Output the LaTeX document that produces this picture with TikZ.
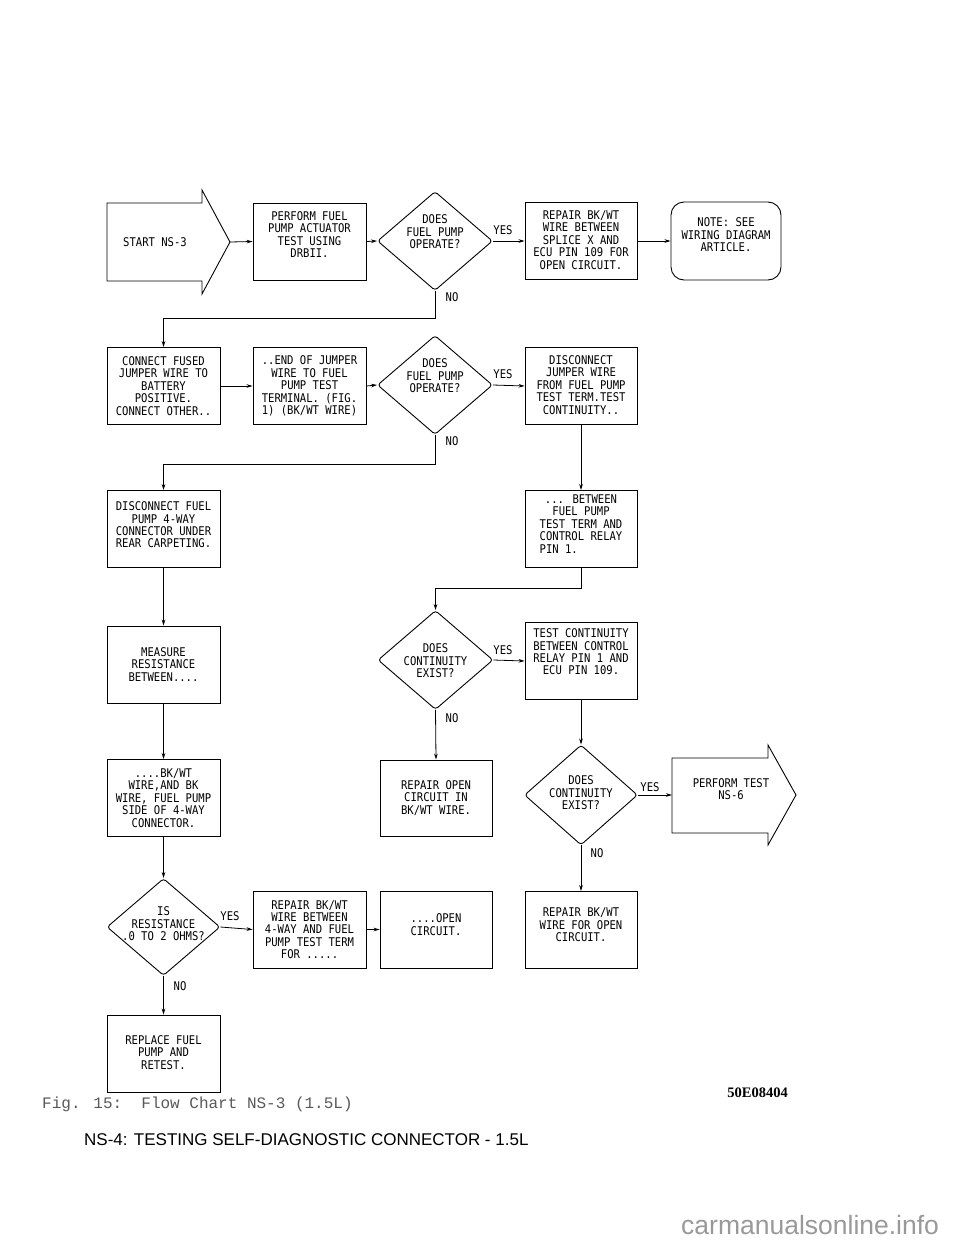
\documentclass[tikz,border=0pt]{standalone}
\usepackage{fontspec}
\usetikzlibrary{shapes.geometric,arrows.meta}
\newfontfamily\chartfam[FakeStretch=0.88]{DejaVu Sans Mono}
\newfontfamily\sansfam{Liberation Sans}
\newfontfamily\courfam{Liberation Mono}
\newfontfamily\tnrfam{Liberation Serif}
\tikzset{
  chart/.style={font={\chartfam\fontsize{12pt}{12.4pt}\selectfont}},
  txt/.style={chart, align=center, inner sep=0pt},
  box/.style={draw, line width=0.9pt, minimum width=113pt, minimum height=77pt, inner sep=0pt},
  dia/.style={draw, diamond, line width=0.9pt, rounded corners=3pt, minimum width=115pt, minimum height=99pt, inner sep=0pt},
  arr/.style={-{Stealth[length=6pt,width=3.6pt]}, line width=0.8pt},
  lbl/.style={chart, inner sep=0pt},
  outline/.style={line width=0.9pt, line join=miter}
}
\begin{document}
\begin{tikzpicture}[x=1pt,y=-1pt]
\useasboundingbox (0,0) rectangle (960,1242);
\fill[white] (0,0) rectangle (960,1242);

% ---- Row 1
\draw[outline] (107,203) -- (202,203) -- (202,190) -- (230,242) -- (202,294) -- (202,281) -- (107,281) -- cycle;
\node[txt] (start) at (155,242) {START NS-3};
\coordinate (starttip) at (230,242);
\node[box] (A) at (309.5,241.5) {};
\node[txt] (At) at ([yshift=7pt]A.center) {PERFORM FUEL\\PUMP ACTUATOR\\TEST USING\\DRBII.};
\node[dia] (D1) at (435,241) {};
\node[txt] (D1t) at ([yshift=9pt]D1.center) {DOES\\FUEL PUMP\\OPERATE?};
\node[box, minimum width=112pt] (B) at (581,241) {};
\node[txt] (Bt) at ([yshift=1pt]B.center) {REPAIR BK/WT\\WIRE BETWEEN\\SPLICE X AND\\ECU PIN 109 FOR\\OPEN CIRCUIT.};
\node[box, rounded corners=13pt, minimum width=110pt, minimum height=78pt] (note) at (726,241) {};
\node[txt] (notet) at ([yshift=6pt]note.center) {NOTE: SEE\\WIRING DIAGRAM\\ARTICLE.};

% ---- Row 2
\node[box] (C) at (163.5,386) {};
\node[txt] (Ct) at (C.center) {CONNECT FUSED\\JUMPER WIRE TO\\BATTERY\\POSITIVE.\\CONNECT OTHER..};
\node[box] (D) at (309.5,386) {};
\node[txt] (Dt) at (D.center) {..END OF JUMPER\\WIRE TO FUEL\\PUMP TEST\\TERMINAL. (FIG.\\1) (BK/WT WIRE)};
\node[dia] (D2) at (435,385) {};
\node[txt] (D2t) at ([yshift=9pt]D2.center) {DOES\\FUEL PUMP\\OPERATE?};
\node[box, minimum width=112pt] (E) at (581,386) {};
\node[txt] (Et) at ([yshift=1pt]E.center) {DISCONNECT\\JUMPER WIRE\\FROM FUEL PUMP\\TEST TERM.TEST\\CONTINUITY..};

% ---- Row 3
\node[box] (F) at (163.5,529) {};
\node[txt] (Ft) at ([yshift=4pt]F.center) {DISCONNECT FUEL\\PUMP 4-WAY\\CONNECTOR UNDER\\REAR CARPETING.};
\node[box, minimum width=112pt] (G) at (581,529) {};
\node[txt] (Gt) at ([yshift=5pt]G.center) {... BETWEEN\\FUEL PUMP\\TEST TERM AND\\CONTROL RELAY\\\rlap{PIN 1.}\phantom{CONTROL RELAY}};

% ---- Row 4
\node[box] (H) at (163.5,664.5) {};
\node[txt] (Ht) at (H.center) {MEASURE\\RESISTANCE\\BETWEEN....};
\node[dia] (D3) at (435.5,660) {};
\node[txt] (D3t) at ([yshift=-1pt]D3.center) {DOES\\CONTINUITY\\EXIST?};
\node[box, minimum width=112pt] (I) at (581,661) {};
\node[txt] (It) at ([yshift=9pt]I.center) {TEST CONTINUITY\\BETWEEN CONTROL\\RELAY PIN 1 AND\\ECU PIN 109.};

% ---- Row 5
\node[box] (K) at (163.5,798) {};
\node[txt] (Kt) at (K.center) {....BK/WT\\WIRE,AND BK\\WIRE, FUEL PUMP\\SIDE OF 4-WAY\\CONNECTOR.};
\node[box, minimum width=112pt, minimum height=76pt] (J) at (436,798) {};
\node[txt] (Jt) at (J.center) {REPAIR OPEN\\CIRCUIT IN\\BK/WT WIRE.};
\node[dia, minimum width=113pt, minimum height=100pt] (D4) at (581,795) {};
\node[txt] (D4t) at ([yshift=2pt]D4.center) {DOES\\CONTINUITY\\EXIST?};
\draw[outline] (672,758) -- (768,758) -- (768,745) -- (796,795) -- (768,845) -- (768,833) -- (672,833) -- cycle;
\node[txt] (PT) at (731,789) {PERFORM TEST\\NS-6};
\coordinate (ptleft) at (672,795);

% ---- Row 6
\node[dia, minimum width=113pt, minimum height=97pt] (D5) at (163.5,927) {};
\node[txt] (D5t) at ([yshift=3pt]D5.center) {IS\\RESISTANCE\\.0 TO 2 OHMS?};
\node[box] (L) at (309.5,929.5) {};
\node[txt] (Lt) at (L.center) {REPAIR BK/WT\\WIRE BETWEEN\\4-WAY AND FUEL\\PUMP TEST TERM\\FOR .....};
\node[box, minimum width=112pt] (M) at (436,929.5) {};
\node[txt] (Mt) at ([yshift=5pt]M.center) {....OPEN\\CIRCUIT.};
\node[box, minimum width=112pt] (N) at (581,930) {};
\node[txt] (Nt) at ([yshift=5pt]N.center) {REPAIR BK/WT\\WIRE FOR OPEN\\CIRCUIT.};

% ---- Row 7
\node[box] (O) at (163.5,1053.5) {};
\node[txt] (Ot) at ([yshift=1pt]O.center) {REPLACE FUEL\\PUMP AND\\RETEST.};

% ---- Connectors
\draw[arr] (starttip) -- (A.west);
\draw[arr] (A.east) -- (D1.west);
\draw[arr] (D1.east) -- (B.west);
\draw[arr] (B.east) -- (note.west);
\draw[arr] (D1.south) -- ++(0,27) -| (C.north);
\draw[arr] (C.east) -- (D.west);
\draw[arr] (D.east) -- (D2.west);
\draw[arr] (D2.east) -- (E.west);
\draw[arr] (D2.south) -- ++(0,29) -| (F.north);
\draw[arr] (E.south) -- (G.north);
\draw[arr] (F.south) -- (H.north);
\draw[arr] (G.south) -- ++(0,20) -| (D3.north);
\draw[arr] (D3.east) -- (I.west);
\draw[arr] (D3.south) -- (J.north);
\draw[arr] (H.south) -- (K.north);
\draw[arr] (I.south) -- (D4.north);
\draw[arr] (D4.east) -- (ptleft);
\draw[arr] (D4.south) -- (N.north);
\draw[arr] (K.south) -- (D5.north);
\draw[arr] (D5.east) -- (L.west);
\draw[arr] (L.east) -- (M.west);
\draw[arr] (D5.south) -- (O.north);

% ---- Labels
\node[lbl] (y1) at (503,230) {YES};
\node[lbl] (n1) at (452,297) {NO};
\node[lbl] (y2) at (503,374) {YES};
\node[lbl] (n2) at (452,441) {NO};
\node[lbl] (y3) at (503,650) {YES};
\node[lbl] (n3) at (452,718) {NO};
\node[lbl] (y4) at (650,787) {YES};
\node[lbl] (n4) at (597,853) {NO};
\node[lbl] (y5) at (230,916) {YES};
\node[lbl] (n5) at (180,986) {NO};

% ---- Captions
\node[anchor=base west, inner sep=0pt, text=black!65, font={\courfam\fontsize{16pt}{16pt}\selectfont}] (cap) at (42,1108) {Fig. 15:\ \ Flow Chart NS-3 (1.5L)};
\node[anchor=base east, inner sep=0pt, font={\tnrfam\bfseries\fontsize{14.5pt}{14.5pt}\selectfont}] (code) at (788,1097) {50E08404};
\node[anchor=base west, inner sep=0pt, font={\sansfam\fontsize{17pt}{17pt}\selectfont}] (title) at (84,1145) {NS-4: TESTING SELF-DIAGNOSTIC CONNECTOR - 1.5L};
\node[anchor=base west, inner sep=0pt, text=black!40, font={\sansfam\fontsize{26.5pt}{26.5pt}\selectfont}] (wm) at (681,1234) {carmanualsonline.info};
\end{tikzpicture}
\end{document}
